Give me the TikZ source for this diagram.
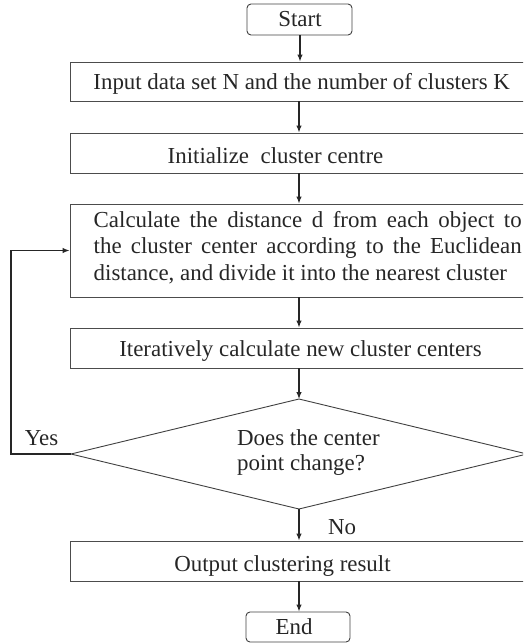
\documentclass[tikz,border=0pt]{standalone}
\usepackage{fontspec}
\setmainfont{Liberation Serif}
\usetikzlibrary{arrows.meta}
\begin{document}
\begin{tikzpicture}[x=1pt,y=-1pt,
  every node/.style={font=\fontsize{22.9}{25}\selectfont, text=black!85},
  box/.style={draw=black!70, line width=0.9pt, minimum width=460pt, inner sep=0pt},
  term/.style={draw=black!75, line width=0.9pt, rounded corners=4pt, inner sep=0pt},
  arr/.style={draw=black!85, line width=1.2pt, -{Latex[length=7pt,width=5.5pt]}},
  lbl/.style={inner sep=0pt, anchor=base}]
\useasboundingbox (0,0) rectangle (523,643);
\clip (0,0) rectangle (523,643);
% boxes
\node[term, minimum width=105pt, minimum height=31pt] (start) at (299.5,19.5) {};
\node[box, minimum height=39pt] (input) at (300,81.5) {};
\node[box, minimum height=40pt] (init) at (300,153) {};
\node[box, minimum height=93pt] (calc) at (300,250.5) {};
\node[box, minimum height=40pt] (iter) at (300,348) {};
\node[box, minimum height=40pt] (out) at (300,561) {};
\node[term, minimum width=104pt, minimum height=30pt] (end) at (298,627) {};
% diamond
\coordinate (dtop) at (299,399);
\coordinate (dleft) at (71,454);
\coordinate (dbot) at (299,509);
\coordinate (dright) at (527,454);
\draw[draw=black!75, line width=0.9pt] (dtop) -- (dright) -- (dbot) -- (dleft) -- cycle;
% texts
\node[lbl] (tstart) at (300,26.7) {Start};
\node[lbl] (tinput) at (301.7,89.3) {Input data set N and the number of clusters K};
\node[lbl] (tinit) at (275.5,163) {Initialize\ \ cluster centre};
\node[lbl, font=\fontsize{22.9}{26.5}\selectfont, text width=428pt, align=justify, anchor=north west] (tcalc) at (93.5,211)
  {\hyphenpenalty=10000 Calculate the distance d from each object to\linebreak the cluster center according to the Euclidean\linebreak distance, and divide it into the nearest cluster};
\node[lbl] (titer) at (300.5,356.7) {Iteratively calculate new cluster centers};
\node[lbl, align=left, anchor=north west] (tdia) at (237,429.4) {Does the center\\point change?};
\node[lbl] (tout) at (282.5,571.7) {Output clustering result};
\node[lbl] (tend) at (294,634) {End};
\node[lbl] (yes) at (41.5,445) {Yes};
\node[lbl] (no) at (342,534) {No};
% connectors
\draw[arr] (start.south -| 300,0) -- (input.north -| 300,0);
\draw[arr] (input.south -| 299,0) -- (init.north -| 299,0);
\draw[arr] (init.south -| 299,0) -- (calc.north -| 299,0);
\draw[arr] (calc.south -| 299,0) -- (iter.north -| 299,0);
\draw[arr] (iter.south -| 299,0) -- (dtop);
\draw[arr] (dbot) -- (out.north -| 299,0);
\draw[arr] (out.south -| 299,0) -- (end.north -| 299,0);
\coordinate (lp) at (11,454);
\draw[arr] (dleft) -- (lp) |- (calc.west);
\end{tikzpicture}
\end{document}
